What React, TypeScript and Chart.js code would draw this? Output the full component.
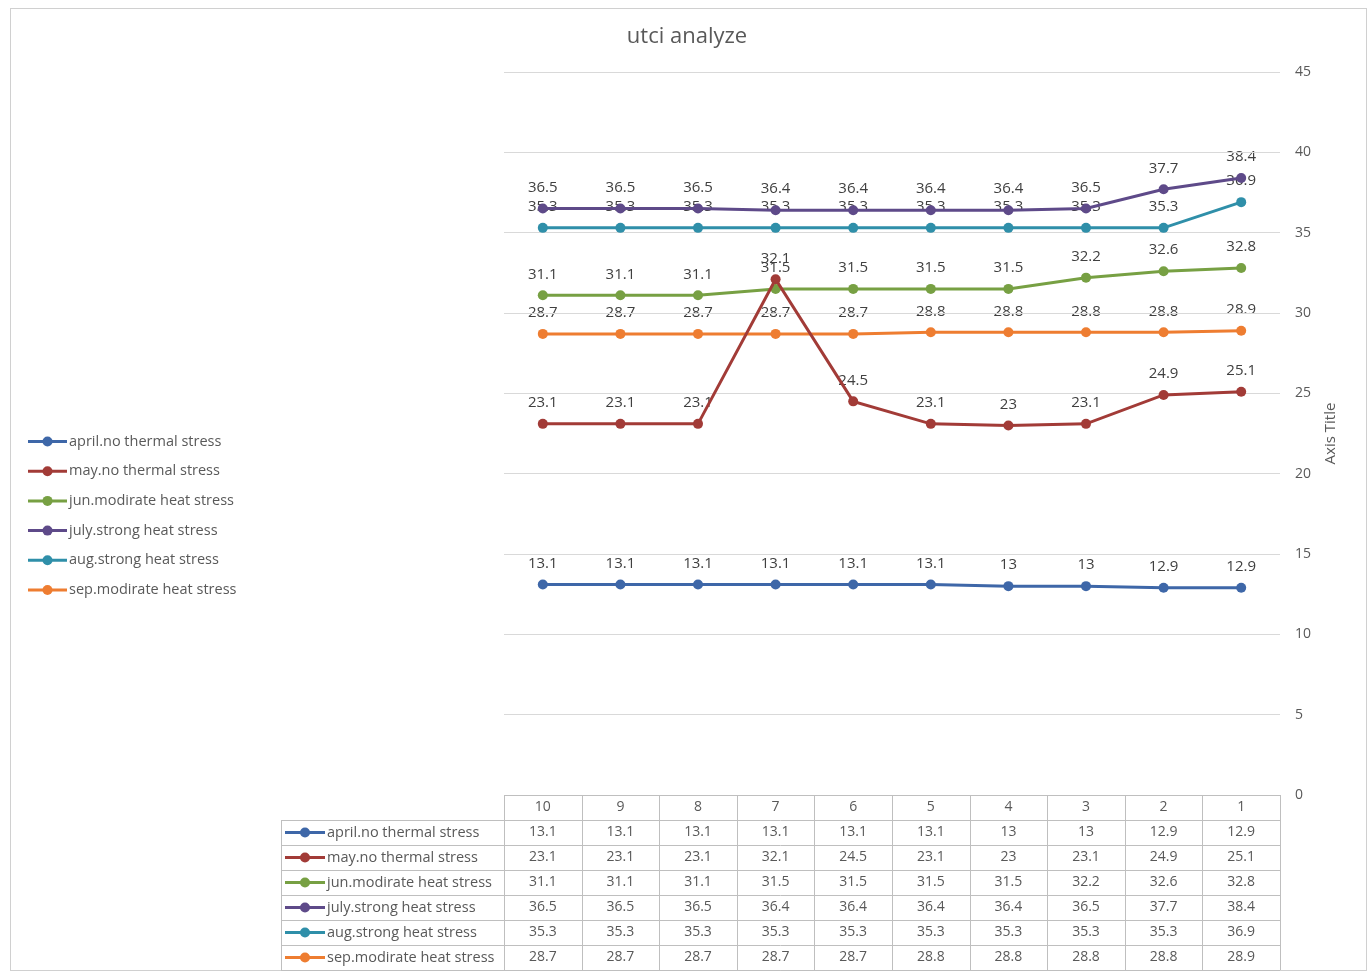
import React, { useEffect, useRef } from "react";
import { Chart, registerables } from "chart.js";

Chart.register(...registerables);

const chartTitle = "utci analyze";
const axisTitle = "Axis Title";
const categories = ["10", "9", "8", "7", "6", "5", "4", "3", "2", "1"];
const seriesNames = [
  "april.no thermal stress",
  "may.no thermal stress",
  "jun.modirate heat stress",
  "july.strong heat stress",
  "aug.strong heat stress",
  "sep.modirate heat stress",
];
const april = [13.1, 13.1, 13.1, 13.1, 13.1, 13.1, 13, 13, 12.9, 12.9];
const may = [23.1, 23.1, 23.1, 32.1, 24.5, 23.1, 23, 23.1, 24.9, 25.1];
const jun = [31.1, 31.1, 31.1, 31.5, 31.5, 31.5, 31.5, 32.2, 32.6, 32.8];
const july = [36.5, 36.5, 36.5, 36.4, 36.4, 36.4, 36.4, 36.5, 37.7, 38.4];
const aug = [35.3, 35.3, 35.3, 35.3, 35.3, 35.3, 35.3, 35.3, 35.3, 36.9];
const sep = [28.7, 28.7, 28.7, 28.7, 28.7, 28.8, 28.8, 28.8, 28.8, 28.9];
const seriesValues = [april, may, jun, july, aug, sep];
const seriesColors = ["#3E67A8", "#A23B37", "#77A043", "#5E4A89", "#2F8FA9", "#EE7D31"];
const yMin = 0;
const yMax = 45;
const yStep = 5;

const FONT = "'Open Sans', 'Noto Sans', sans-serif";
const TEXT = "#595959";

export default function App() {
  const ref = useRef<HTMLCanvasElement | null>(null);

  useEffect(() => {
    document.body.style.margin = "0";
    document.body.style.overflow = "hidden";
    const canvas = ref.current!;
    const W = 1372;
    const H = 972;

    const drawKey = (ctx: CanvasRenderingContext2D, x0: number, x1: number, y: number, color: string) => {
      ctx.save();
      ctx.strokeStyle = color;
      ctx.lineWidth = 3;
      ctx.beginPath();
      ctx.moveTo(x0, y);
      ctx.lineTo(x1, y);
      ctx.stroke();
      ctx.fillStyle = color;
      ctx.beginPath();
      ctx.arc((x0 + x1) / 2, y, 5, 0, Math.PI * 2);
      ctx.fill();
      ctx.restore();
    };

    const extras = {
      id: "extras",
      beforeDraw(chart: any) {
        const ctx: CanvasRenderingContext2D = chart.ctx;
        ctx.save();
        ctx.fillStyle = "#ffffff";
        ctx.fillRect(0, 0, W, H);
        ctx.strokeStyle = "#D0D0D0";
        ctx.lineWidth = 1;
        ctx.strokeRect(10.5, 8.5, 1356, 962);
        // title
        ctx.fillStyle = TEXT;
        ctx.font = `22px ${FONT}`;
        ctx.textAlign = "center";
        ctx.textBaseline = "middle";
        ctx.fillText(chartTitle, 687, 37);
        // data labels (under grid and lines)
        ctx.font = `15px ${FONT}`;
        ctx.fillStyle = "#404040";
        chart.data.datasets.forEach((ds: any, di: number) => {
          const meta = chart.getDatasetMeta(di);
          meta.data.forEach((pt: any, i: number) => {
            ctx.fillText(String(ds.data[i]), pt.x, pt.y - 21);
          });
        });
        // axis title
        ctx.save();
        ctx.translate(1331, (chart.chartArea.top + chart.chartArea.bottom) / 2);
        ctx.rotate(-Math.PI / 2);
        ctx.font = `15px ${FONT}`;
        ctx.fillStyle = TEXT;
        ctx.fillText(axisTitle, 0, 0);
        ctx.restore();
        // left legend
        ctx.textAlign = "left";
        ctx.font = `14.5px ${FONT}`;
        seriesNames.forEach((n, i) => {
          const y = 441.5 + i * 29.7;
          drawKey(ctx, 28, 67, y, seriesColors[i]);
          ctx.fillStyle = TEXT;
          ctx.fillText(n, 69, y);
        });
        ctx.restore();
      },
      afterDraw(chart: any) {
        const ctx: CanvasRenderingContext2D = chart.ctx;
        const area = chart.chartArea;
        const xs = chart.scales.x;
        const n = categories.length;
        const left = area.left;
        const right = area.right;
        const colW = (right - left) / n;
        const top = area.bottom;
        const rowH = 25;
        const labelLeft = 281;
        ctx.save();
        ctx.strokeStyle = "#BFBFBF";
        ctx.lineWidth = 1;
        for (let r = 0; r <= seriesNames.length + 1; r++) {
          const y = Math.round(top + r * rowH) + 0.5;
          ctx.beginPath();
          ctx.moveTo(r === 0 ? left : labelLeft, y);
          ctx.lineTo(right, y);
          ctx.stroke();
        }
        const bottom = top + rowH * (seriesNames.length + 1);
        for (let c = 0; c <= n; c++) {
          const x = Math.round(left + c * colW) + 0.5;
          ctx.beginPath();
          ctx.moveTo(x, top);
          ctx.lineTo(x, bottom);
          ctx.stroke();
        }
        ctx.beginPath();
        ctx.moveTo(labelLeft + 0.5, top + rowH);
        ctx.lineTo(labelLeft + 0.5, bottom);
        ctx.stroke();
        ctx.fillStyle = TEXT;
        ctx.font = `14px ${FONT}`;
        ctx.textAlign = "center";
        ctx.textBaseline = "middle";
        categories.forEach((c, i) => {
          const x = xs.getPixelForValue(i);
          ctx.fillText(c, x, top + rowH / 2);
        });
        seriesValues.forEach((vals, r) => {
          const yc = top + rowH * (r + 1) + rowH / 2;
          ctx.font = `14px ${FONT}`;
          vals.forEach((v, i) => {
            ctx.fillStyle = TEXT;
            ctx.textAlign = "center";
            ctx.fillText(String(v), xs.getPixelForValue(i), yc);
          });
          drawKey(ctx, 285, 325, yc, seriesColors[r]);
          ctx.fillStyle = TEXT;
          ctx.textAlign = "left";
          ctx.font = `14.5px ${FONT}`;
          ctx.fillText(seriesNames[r], 327, yc);
        });
        ctx.restore();
      },
    };

    const chart = new Chart(canvas, {
      type: "line",
      data: {
        labels: categories,
        datasets: seriesValues.map((vals, i) => ({
          label: seriesNames[i],
          data: vals,
          borderColor: seriesColors[i],
          backgroundColor: seriesColors[i],
          pointBackgroundColor: seriesColors[i],
          pointBorderColor: seriesColors[i],
          pointBorderWidth: 0,
          pointRadius: 5,
          borderWidth: 3,
          tension: 0,
          fill: false,
        })),
      },
      options: {
        responsive: false,
        animation: false,
        devicePixelRatio: 1,
        layout: { padding: { left: 504, top: 72, right: 0, bottom: 972 - 795 } },
        plugins: {
          legend: { display: false },
          title: { display: false },
          tooltip: { enabled: false },
        },
        scales: {
          x: {
            type: "category",
            display: false,
            offset: true,
          },
          y: {
            position: "right",
            min: yMin,
            max: yMax,
            border: { display: false },
            grid: { color: "#D9D9D9", lineWidth: 1, drawTicks: false },
            ticks: {
              stepSize: yStep,
              padding: 15,
              color: TEXT,
              font: { family: FONT, size: 14 },
            },
            afterFit: (scale: any) => {
              scale.width = 92;
            },
          },
        },
      },
      plugins: [extras],
    });
    return () => chart.destroy();
  }, []);

  return <canvas ref={ref} width={1372} height={972} style={{ display: "block", width: 1372, height: 972 }} />;
}
